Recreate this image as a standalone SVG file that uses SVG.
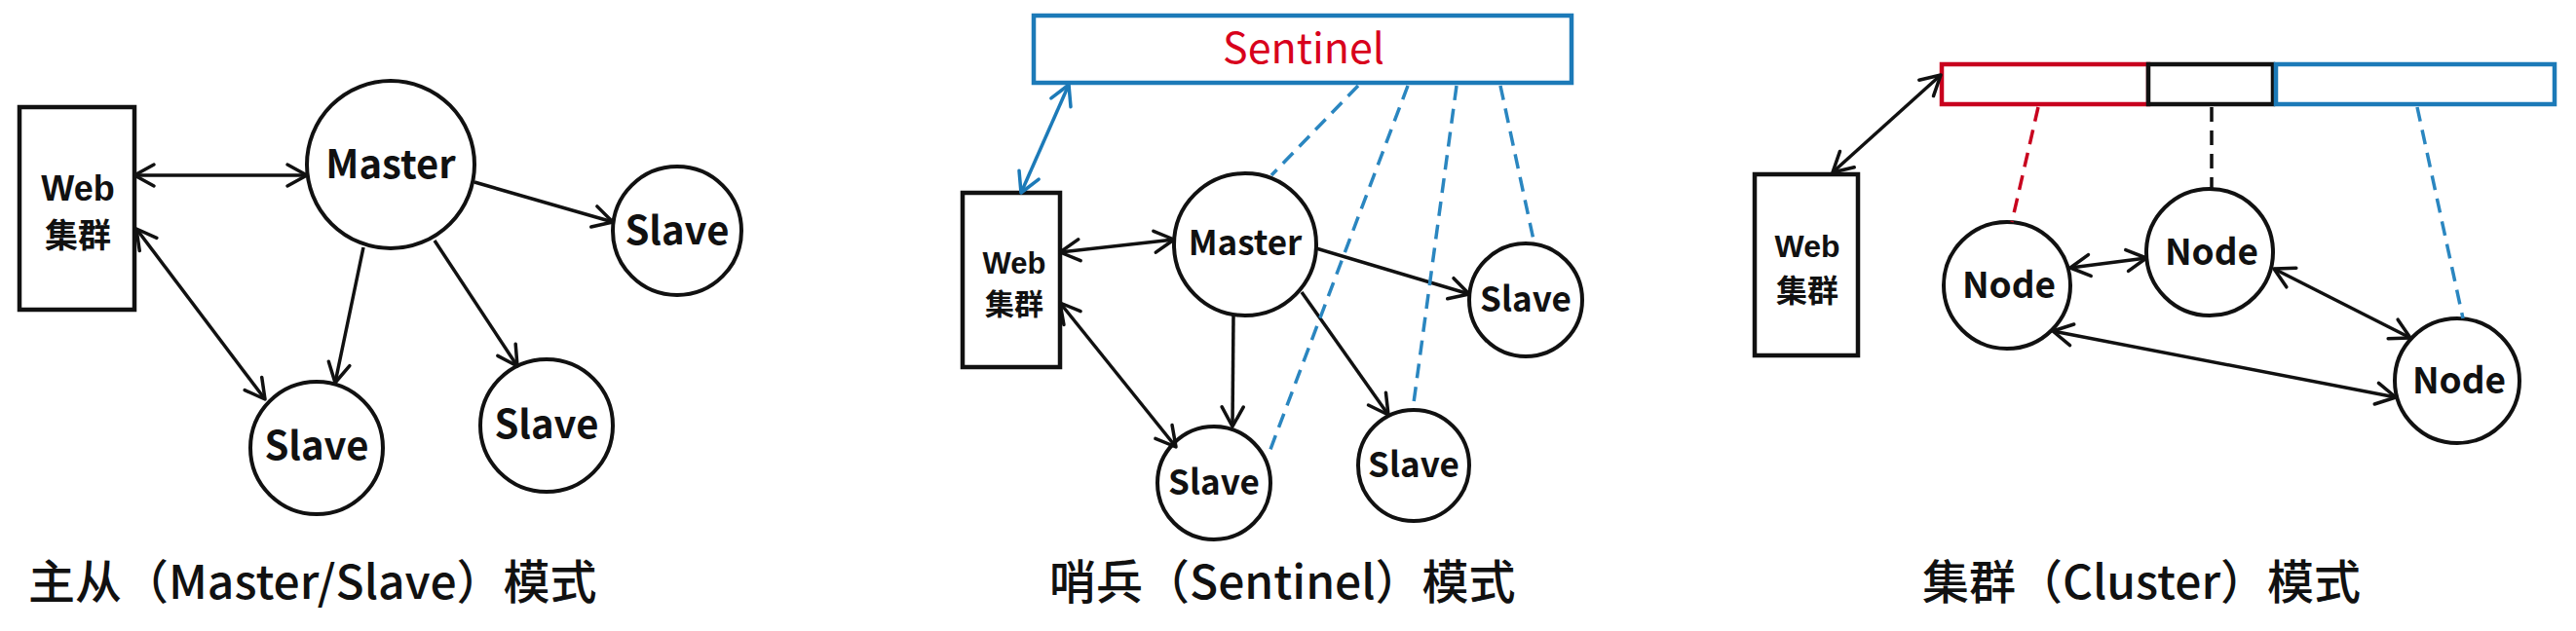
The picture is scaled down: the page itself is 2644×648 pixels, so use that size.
<svg xmlns="http://www.w3.org/2000/svg" width="2644" height="648" viewBox="0 0 2644 648">
<defs>
<style>
.bg{fill:#fff}
.node{fill:#fff;stroke:#111;stroke-width:4}
.box{fill:#fff;stroke:#111;stroke-width:4.5}
.lbl{font-family:"Noto Sans CJK SC","Noto Sans",sans-serif;font-weight:bold;fill:#111;text-anchor:middle}
.web{font-family:"Liberation Sans",Arial,sans-serif;font-weight:bold;fill:#111;text-anchor:middle}
.cap{font-family:"Noto Sans CJK SC","Noto Sans",sans-serif;font-weight:500;font-size:48px;fill:#111}
.ln{fill:none;stroke:#111;stroke-width:3.5}
.bln{fill:none;stroke:#1c7ab8;stroke-width:3.5}
.dash{fill:none;stroke-width:3.5;stroke-dasharray:15 9}
</style>
<marker id="ah" viewBox="0 0 28 28" refX="25" refY="14" markerWidth="28" markerHeight="28" markerUnits="userSpaceOnUse" orient="auto-start-reverse">
<path d="M5,3 L25,14 L5,25" fill="none" stroke="#111" stroke-width="3.5" stroke-linejoin="round" stroke-linecap="round"/>
</marker>
<marker id="ahb" viewBox="0 0 28 28" refX="25" refY="14" markerWidth="28" markerHeight="28" markerUnits="userSpaceOnUse" orient="auto-start-reverse">
<path d="M5,3 L25,14 L5,25" fill="none" stroke="#1c7ab8" stroke-width="3.5" stroke-linejoin="round" stroke-linecap="round"/>
</marker>
</defs>
<rect class="bg" x="0" y="0" width="2644" height="648"/>

<!-- Panel 1 -->
<g id="p1-web"><rect class="box" x="20" y="110" width="118" height="208"/>
<text class="web" x="80" y="206" font-size="36">Web</text>
<text class="lbl" x="80" y="254" font-size="34">集群</text></g>
<g id="p1-master"><circle class="node" cx="401" cy="169" r="86"/><text class="lbl" x="401" y="183" font-size="40">Master</text></g>
<g id="p1-slave-r"><circle class="node" cx="695" cy="237" r="66"/><text class="lbl" x="695" y="251" font-size="40">Slave</text></g>
<g id="p1-slave-bl"><circle class="node" cx="325" cy="460" r="68"/><text class="lbl" x="325" y="472" font-size="40">Slave</text></g>
<g id="p1-slave-bm"><circle class="node" cx="561" cy="437" r="68"/><text class="lbl" x="561" y="450" font-size="40">Slave</text></g>
<text id="p1-caption" class="cap" x="29" y="615">主从（Master/Slave）模式</text>

<!-- Panel 2 -->
<g id="p2-sentinel"><rect x="1061" y="16" width="552" height="69" fill="#fff" stroke="#1c7ab8" stroke-width="4.5"/>
<text x="1338" y="65" font-family="'Noto Sans CJK SC','Noto Sans',sans-serif" font-size="43" fill="#d8001c" text-anchor="middle">Sentinel</text></g>
<g id="p2-web"><rect class="box" x="988" y="198" width="100" height="179"/>
<text class="web" x="1041" y="281" font-size="31">Web</text>
<text class="lbl" x="1041" y="323" font-size="30">集群</text></g>
<g id="p2-master"><circle class="node" cx="1278" cy="251" r="73"/><text class="lbl" x="1278" y="262" font-size="35">Master</text></g>
<g id="p2-slave1"><circle class="node" cx="1246" cy="496" r="58"/><text class="lbl" x="1246" y="508" font-size="35">Slave</text></g>
<g id="p2-slave2"><circle class="node" cx="1451" cy="478" r="57"/><text class="lbl" x="1451" y="490" font-size="35">Slave</text></g>
<g id="p2-slave3"><circle class="node" cx="1566" cy="308" r="58"/><text class="lbl" x="1566" y="320" font-size="35">Slave</text></g>
<text id="p2-caption" class="cap" x="1077" y="615">哨兵（Sentinel）模式</text>

<!-- Panel 3 -->
<g id="p3-web"><rect class="box" x="1801" y="179" width="106" height="186"/>
<text class="web" x="1855" y="264" font-size="32">Web</text>
<text class="lbl" x="1855" y="310" font-size="32">集群</text></g>
<g id="p3-slots">
<rect x="1993" y="66" width="212" height="41" fill="#fff" stroke="#c8001e" stroke-width="4.5"/>
<rect x="2205" y="66" width="128" height="41" fill="#fff" stroke="#111" stroke-width="4.5"/>
<rect x="2336" y="66" width="286" height="41" fill="#fff" stroke="#1c7ab8" stroke-width="4.5"/>
</g>
<g id="p3-node1"><circle class="node" cx="2060" cy="293" r="65"/><text class="lbl" x="2062" y="306" font-size="37">Node</text></g>
<g id="p3-node2"><circle class="node" cx="2268" cy="259" r="65"/><text class="lbl" x="2270" y="272" font-size="37">Node</text></g>
<g id="p3-node3"><circle class="node" cx="2522" cy="391" r="64"/><text class="lbl" x="2524" y="404" font-size="37">Node</text></g>
<text id="p3-caption" class="cap" x="1973" y="615">集群（Cluster）模式</text>

<g id="connectors">
<!-- panel 1 -->
<line class="ln" x1="138" y1="180" x2="315" y2="180" marker-start="url(#ah)" marker-end="url(#ah)"/>
<line class="ln" x1="140" y1="235" x2="272" y2="410" marker-start="url(#ah)" marker-end="url(#ah)"/>
<line class="ln" x1="487" y1="187" x2="629" y2="228" marker-end="url(#ah)"/>
<line class="ln" x1="373" y1="254" x2="344" y2="393" marker-end="url(#ah)"/>
<line class="ln" x1="446" y1="247" x2="531" y2="376" marker-end="url(#ah)"/>
<!-- panel 2 -->
<line class="bln" x1="1097" y1="87" x2="1048" y2="198" marker-start="url(#ahb)" marker-end="url(#ahb)"/>
<line class="ln" x1="1088" y1="259" x2="1205" y2="246" marker-start="url(#ah)" marker-end="url(#ah)"/>
<line class="ln" x1="1088" y1="311" x2="1207" y2="459" marker-start="url(#ah)" marker-end="url(#ah)"/>
<line class="ln" x1="1266" y1="324" x2="1265" y2="438" marker-end="url(#ah)"/>
<line class="ln" x1="1336" y1="300" x2="1425" y2="426" marker-end="url(#ah)"/>
<line class="ln" x1="1351" y1="255" x2="1508" y2="302" marker-end="url(#ah)"/>
<line class="dash" stroke="#2a86c0" x1="1394" y1="88" x2="1305" y2="180"/>
<line class="dash" stroke="#2a86c0" x1="1445" y1="88" x2="1303" y2="464"/>
<line class="dash" stroke="#2a86c0" x1="1495" y1="88" x2="1450" y2="421"/>
<line class="dash" stroke="#2a86c0" x1="1540" y1="88" x2="1575" y2="251"/>
<!-- panel 3 -->
<line class="ln" x1="1881" y1="177" x2="1992" y2="77" marker-start="url(#ah)" marker-end="url(#ah)"/>
<line class="dash" stroke="#c8001e" x1="2092" y1="110" x2="2065" y2="228"/>
<line class="dash" stroke="#111" x1="2270" y1="110" x2="2270" y2="194"/>
<line class="dash" stroke="#2a86c0" x1="2481" y1="110" x2="2528" y2="327"/>
<line class="ln" x1="2125" y1="275" x2="2203" y2="265" marker-start="url(#ah)" marker-end="url(#ah)"/>
<line class="ln" x1="2334" y1="276" x2="2474" y2="347" marker-start="url(#ah)" marker-end="url(#ah)"/>
<line class="ln" x1="2107" y1="340" x2="2459" y2="408" marker-start="url(#ah)" marker-end="url(#ah)"/>
</g>
</svg>
